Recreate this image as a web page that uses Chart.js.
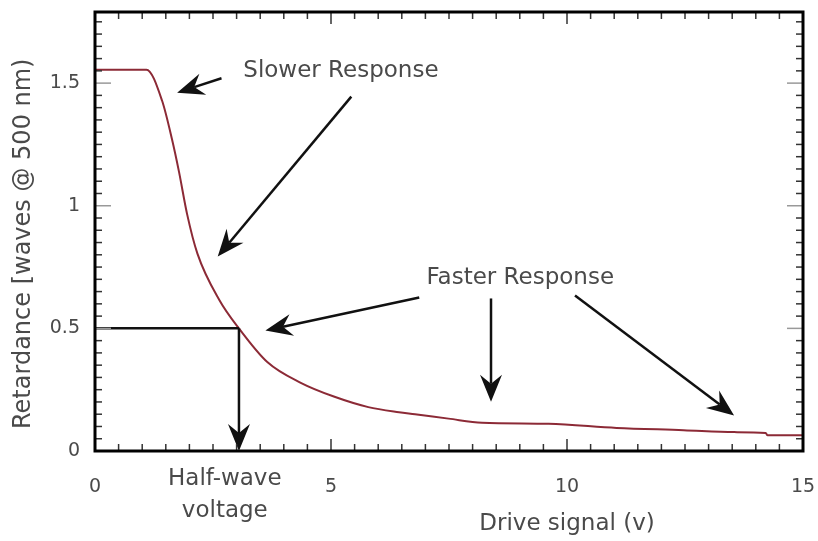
<!DOCTYPE html>
<html>
<head>
<meta charset="utf-8">
<script src="https://cdn.jsdelivr.net/npm/chart.js@4.4.1/dist/chart.umd.min.js"></script>
<style>
  html, body { margin: 0; padding: 0; background: #fff; }
  #wrap { width: 818px; height: 541px; }
</style>
</head>
<body>
<div id="wrap"><canvas id="retardance" width="818" height="541"></canvas></div>
<script>
const driveSignal = [0, 1.09, 1.42, 1.63, 1.78, 1.95, 2.17, 2.64, 3.05, 3.65, 4.36, 5.06, 5.79, 6.44, 6.78, 7.49, 8.20, 9.61, 11.05, 12.47, 13.54, 14.21, 14.25, 15];
const retardance = [1.555, 1.555, 1.429, 1.272, 1.138, 0.967, 0.805, 0.614, 0.5, 0.363, 0.278, 0.222, 0.179, 0.158, 0.150, 0.132, 0.115, 0.111, 0.094, 0.085, 0.077, 0.073, 0.064, 0.064];
const xTickValues = [0, 5, 10, 15];
const yTickValues = [0, 0.5, 1, 1.5];
const halfWave = [3.05, 0.5];

// arrows in data units: tail x, tail y, tip x, tip y
const arrows = [
  [2.68, 1.520, 1.74, 1.461],
  [5.43, 1.445, 2.60, 0.793],
  [6.87, 0.626, 3.61, 0.491],
  [8.39, 0.622, 8.39, 0.201],
  [10.17, 0.634, 13.54, 0.145]
];
const notes = [
  ['Slower Response', 5.21, 1.551],
  ['Faster Response', 9.01, 0.707]
];

const textColor = '#4a4a4a';
const font = '23px "DejaVu Sans"';

function line(ctx, x1, y1, x2, y2) {
  ctx.beginPath();
  ctx.moveTo(x1, y1);
  ctx.lineTo(x2, y2);
  ctx.stroke();
}

function arrow(ctx, x1, y1, x2, y2) {
  const ang = Math.atan2(y2 - y1, x2 - x1);
  const L = 27, W = 11, N = 18;
  line(ctx, x1, y1, x2 - Math.cos(ang) * N, y2 - Math.sin(ang) * N);
  ctx.save();
  ctx.translate(x2, y2);
  ctx.rotate(ang);
  ctx.beginPath();
  ctx.moveTo(0, 0);
  ctx.lineTo(-L, -W);
  ctx.lineTo(-N, 0);
  ctx.lineTo(-L, W);
  ctx.closePath();
  ctx.fill();
  ctx.restore();
}

const annotations = {
  id: 'annotations',
  afterDatasetsDraw(chart) {
    const {ctx, chartArea: a, scales: {x, y}} = chart;
    ctx.save();
    ctx.strokeStyle = '#111';
    ctx.fillStyle = '#111';
    ctx.lineWidth = 2.5;

    // half-wave voltage marker
    const hx = x.getPixelForValue(halfWave[0]);
    const hy = y.getPixelForValue(halfWave[1]);
    line(ctx, a.left, hy, hx, hy);
    arrow(ctx, hx, hy, hx, y.getPixelForValue(0));

    arrows.forEach(([x1, y1, x2, y2]) => {
      arrow(ctx, x.getPixelForValue(x1), y.getPixelForValue(y1),
                 x.getPixelForValue(x2), y.getPixelForValue(y2));
    });

    ctx.fillStyle = textColor;
    ctx.font = font;
    ctx.textAlign = 'center';
    ctx.textBaseline = 'middle';
    notes.forEach(([t, nx, ny]) => {
      ctx.fillText(t, x.getPixelForValue(nx), y.getPixelForValue(ny));
    });

    // labels under the axis
    ctx.fillText('Half-wave', x.getPixelForValue(2.75), a.bottom + 28);
    ctx.fillText('voltage', x.getPixelForValue(2.75), a.bottom + 60);
    ctx.fillText('Drive signal (v)', x.getPixelForValue(10), a.bottom + 73);

    ctx.font = '24px "DejaVu Sans"';
    ctx.translate(a.left - 71, y.getPixelForValue(0.845));
    ctx.rotate(-Math.PI / 2);
    ctx.fillText('Retardance [waves @ 500 nm)', 0, 0);
    ctx.restore();
  }
};

const frameAndTicks = {
  id: 'frameAndTicks',
  afterDraw(chart) {
    const {ctx, chartArea: a, scales: {x, y}} = chart;
    ctx.save();
    ctx.strokeStyle = '#333';
    ctx.lineWidth = 1.5;
    for (let i = 0; i <= 30; i++) {
      const px = x.getPixelForValue(i * 0.5);
      const len = (i % 10 === 0) ? 12 : 7;
      line(ctx, px, a.bottom, px, a.bottom - len);
      line(ctx, px, a.top, px, a.top + len);
    }
    for (let i = 0; i <= 35; i++) {
      const py = y.getPixelForValue(i * 0.05);
      const major = i % 10 === 0;
      ctx.strokeStyle = major ? '#999' : '#333';
      const len = major ? 16 : 7;
      line(ctx, a.left, py, a.left + len, py);
      line(ctx, a.right, py, a.right - len, py);
    }
    ctx.strokeStyle = '#000';
    ctx.lineWidth = 3;
    ctx.strokeRect(a.left, a.top, a.right - a.left, a.bottom - a.top);
    ctx.restore();
  }
};

const ctx = document.getElementById('retardance').getContext('2d');
const chart = new Chart(ctx, {
  type: 'line',
  data: {
    datasets: [{
      data: driveSignal.map((v, i) => ({x: v, y: retardance[i]})),
      borderColor: '#8c2a36',
      borderWidth: 2,
      pointRadius: 0,
      cubicInterpolationMode: 'monotone',
      fill: false
    }]
  },
  options: {
    responsive: false,
    animation: false,
    layout: { padding: { top: 12, right: 15 } },
    plugins: {
      legend: { display: false },
      tooltip: { enabled: false }
    },
    scales: {
      x: {
        type: 'linear',
        min: 0,
        max: 15,
        grid: { display: false, drawTicks: false },
        border: { display: false },
        afterBuildTicks: s => { s.ticks = xTickValues.map(v => ({value: v})); },
        afterFit: s => { s.height = 90; s.paddingLeft = 0; s.paddingRight = 0; },
        ticks: {
          padding: 25,
          maxRotation: 0,
          color: textColor,
          font: { family: 'DejaVu Sans', size: 19 },
          callback: v => String(v)
        }
      },
      y: {
        min: 0,
        max: 1.79,
        grid: { display: false, drawTicks: false },
        border: { display: false },
        afterBuildTicks: s => { s.ticks = yTickValues.map(v => ({value: v})); },
        afterFit: s => { s.width = 95; s.paddingTop = 0; s.paddingBottom = 0; },
        ticks: {
          padding: 15,
          color: textColor,
          font: { family: 'DejaVu Sans', size: 19 },
          callback: v => String(v)
        }
      }
    }
  },
  plugins: [annotations, frameAndTicks]
});
</script>
</body>
</html>
